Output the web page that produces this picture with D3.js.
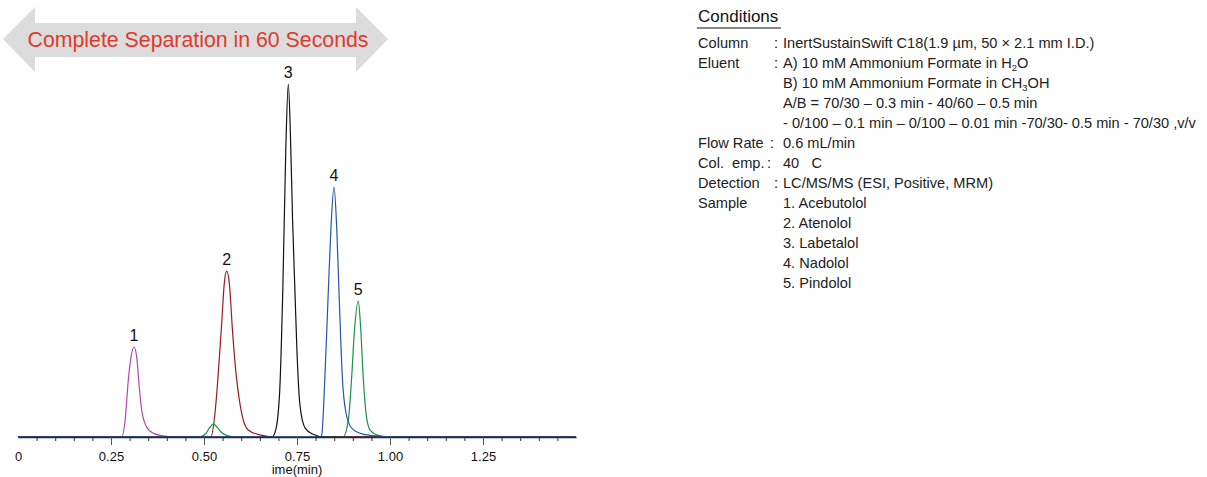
<!DOCTYPE html>
<html>
<head>
<meta charset="utf-8">
<script src="https://cdn.jsdelivr.net/npm/d3@7"></script>
<style>
  body { margin: 0; background: #fff; }
  text { font-family: "Liberation Sans", Arial, sans-serif; white-space: pre; }
</style>
</head>
<body>
<div id="chart"></div>
<script>
// Chromatogram - 5 beta blockers in 60 s

const width = 1207,
    height = 477;

// x axis ticks (min)
const majorTicks = [0, 0.25, 0.50, 0.75, 1.00, 1.25]
const majorTickLabels = ["0", "0.25", "0.50", "0.75", "1.00", "1.25"]
const minorTicks = [0.05, 0.10, 0.15, 0.20, 0.30, 0.35, 0.40, 0.45, 0.55, 0.60, 0.65, 0.70,
  0.80, 0.85, 0.90, 0.95, 1.05, 1.10, 1.15, 1.20, 1.30, 1.35, 1.40, 1.45]
const xTitle = "ime(min)"

// traces: time (min) and signal (peak 3 = 100)
const trace1Time   = [0, 0.279, 0.288, 0.2965, 0.304, 0.312, 0.319, 0.326, 0.3325, 0.346, 0.363, 0.390, 0.42, 1.5]
const trace1Signal = [0, 0, 4.8, 16.1, 22.7, 25.5, 22.7, 14.2, 7.6, 2.8, 1.1, 0.3, 0, 0]

const trace2Time   = [0, 0.518, 0.5296, 0.5384, 0.5476, 0.5546, 0.561, 0.568, 0.577, 0.586, 0.595, 0.6056, 0.619, 0.65, 0.69, 1.5]
const trace2Signal = [0, 0, 6.8, 18.1, 32.3, 43.6, 47, 43.6, 29.5, 18.1, 10.5, 4.8, 2.0, 0.6, 0, 0]

const trace3Time   = [0, 0.683, 0.6935, 0.704, 0.712, 0.720, 0.7266, 0.7325, 0.738, 0.7446, 0.750, 0.758, 0.772, 0.793, 0.825, 1.5]
const trace3Signal = [0, 0, 2.3, 14.2, 42.5, 82, 100, 85, 62, 40.8, 24, 9, 2.5, 0.8, 0, 0]

const trace4Time   = [0, 0.812, 0.8164, 0.825, 0.834, 0.8414, 0.8495, 0.8567, 0.8637, 0.8718, 0.8817, 0.897, 0.927, 0.965, 1.01, 1.5]
const trace4Signal = [0, 0, 0.6, 17, 40.8, 59.5, 70.8, 59.5, 38.8, 17, 6.8, 2.5, 0.8, 0.3, 0, 0]

// trace 5 also shows a small bump near 0.52 min
const trace5Time   = [0, 0.489, 0.505, 0.516, 0.525, 0.535, 0.548, 0.565, 0.58,
  0.8737, 0.888, 0.897, 0.904, 0.9148, 0.921, 0.928, 0.9355, 0.946, 0.964, 0.992, 1.5]
const trace5Signal = [0, 0, 1.0, 2.8, 3.7, 2.8, 1.2, 0.3, 0,
  0, 4.8, 17, 29.5, 38.5, 31.2, 17, 6.8, 2.0, 0.6, 0, 0]

const peakLabels = ["1", "2", "3", "4", "5"]

// conditions panel
const conditionsTitle = "Conditions"
const conditionLabels = ["Column", "Eluent", "", "", "", "Flow Rate", "Col.  emp.", "Detection", "Sample", "", "", "", ""]
const conditionColons = [true, true, false, false, false, true, true, true, false, false, false, false, false]
const conditionValues = [
  "InertSustainSwift C18(1.9 µm, 50 × 2.1 mm I.D.)",
  "A) 10 mM Ammonium Formate in H|2|O",
  "B) 10 mM Ammonium Formate in CH|3|OH",
  "A/B = 70/30 – 0.3 min - 40/60 – 0.5 min",
  "- 0/100 – 0.1 min – 0/100 – 0.01 min -70/30- 0.5 min - 70/30 ,v/v",
  "0.6 mL/min",
  "40   C",
  "LC/MS/MS (ESI, Positive, MRM)",
  "1. Acebutolol",
  "2. Atenolol",
  "3. Labetalol",
  "4. Nadolol",
  "5. Pindolol"
]

const bannerText = "Complete Separation in 60 Seconds"


let svg = d3.select("#chart")
  .append("svg")
    .attr("width", width)
    .attr("height", height)

// scales
let x = d3.scaleLinear()
  .domain([0, 1.5])
  .range([18, 576])

let y = d3.scaleLinear()
  .domain([0, 100])
  .range([437, 84])

const traces = [
  {time: trace1Time, signal: trace1Signal, color: "#b24aa6"},
  {time: trace2Time, signal: trace2Signal, color: "#971c22"},
  {time: trace5Time, signal: trace5Signal, color: "#17924a"},
  {time: trace3Time, signal: trace3Signal, color: "#111111"},
  {time: trace4Time, signal: trace4Signal, color: "#2456ad"}
]

let line = d3.line()
  .x(d => x(d[0]))
  .y(d => y(d[1]))
  .curve(d3.curveMonotoneX)

svg.selectAll("path.trace")
  .data(traces)
  .join("path")
    .attr("class", "trace")
    .attr("d", d => line(d3.zip(d.time, d.signal)))
    .attr("fill", "none")
    .attr("stroke", d => d.color)
    .attr("stroke-width", 1.2)

// peak labels at each trace's apex (order of peaks 1..5)
const peakTraces = [traces[0], traces[1], traces[3], traces[4], traces[2]]
svg.selectAll("text.peak")
  .data(peakTraces)
  .join("text")
    .attr("class", "peak")
    .attr("text-anchor", "middle")
    .attr("font-size", 16)
    .attr("fill", "#111")
    .each(function (d, i) {
      const k = d3.maxIndex(d.signal)
      d3.select(this)
        .attr("x", x(d.time[k]))
        .attr("y", y(d.signal[k]) - 6)
        .text(peakLabels[i])
    })

// x axis: minor ticks
svg.append("g")
  .attr("transform", "translate(0,437)")
  .call(d3.axisBottom(x).tickValues(minorTicks).tickSize(4).tickFormat(""))
  .call(g => g.select(".domain").remove())
  .call(g => g.selectAll("line").attr("stroke", "#333"))

// x axis: major ticks + labels
svg.append("g")
  .attr("transform", "translate(0,437)")
  .call(d3.axisBottom(x).tickValues(majorTicks).tickSize(8).tickSizeOuter(0).tickPadding(7)
    .tickFormat((d, i) => majorTickLabels[i]))
  .call(g => g.select(".domain").attr("stroke", "#2a2a3a").attr("stroke-width", 1.3))
  .call(g => g.selectAll(".tick line").attr("stroke", "#555").filter(d => d === 0).remove())
  .call(g => g.selectAll(".tick text").attr("font-size", 13).attr("fill", "#111")
    .attr("font-family", "Liberation Sans, Arial, sans-serif"))

svg.append("text")
  .attr("x", x(0.75))
  .attr("y", 474)
  .attr("text-anchor", "middle")
  .attr("font-size", 13)
  .attr("fill", "#111")
  .text(xTitle)

// banner: double-headed grey arrow
svg.append("path")
  .attr("d", "M3,39 L35,7 L35,23 L356,23 L356,7 L388,39 L356,72 L356,57 L35,57 L35,72 Z")
  .attr("fill", "#dcdcdc")

svg.append("text")
  .attr("x", 198)
  .attr("y", 47)
  .attr("text-anchor", "middle")
  .attr("font-size", 21.3)
  .attr("fill", "#e03a2c")
  .text(bannerText)

// conditions panel
svg.append("text")
  .attr("x", 698)
  .attr("y", 22)
  .attr("font-size", 17)
  .attr("fill", "#111")
  .text(conditionsTitle)

svg.append("line")
  .attr("x1", 697).attr("x2", 781)
  .attr("y1", 28).attr("y2", 28)
  .attr("stroke", "#111")
  .attr("stroke-width", 1)

let rows = svg.append("g")
  .attr("font-size", 14.6)
  .attr("fill", "#222")

conditionValues.forEach((v, i) => {
  const yy = 48 + i * 20
  if (conditionLabels[i]) {
    rows.append("text").attr("x", 698).attr("y", yy).text(conditionLabels[i])
  }
  if (conditionColons[i]) {
    rows.append("text").attr("x", conditionLabels[i] === "Flow Rate" ? 770 : conditionLabels[i].startsWith("Col.") ? 767 : 774)
      .attr("y", yy).text(":")
  }
  // parts between | are subscripts
  let t = rows.append("text").attr("x", 783).attr("y", yy)
  v.split("|").forEach((part, j) => {
    if (j % 2 === 1) {
      t.append("tspan").attr("font-size", 9.5).attr("dy", 2.5).text(part)
    } else {
      t.append("tspan").attr("dy", j > 0 ? -2.5 : 0).text(part)
    }
  })
})
</script>
</body>
</html>
